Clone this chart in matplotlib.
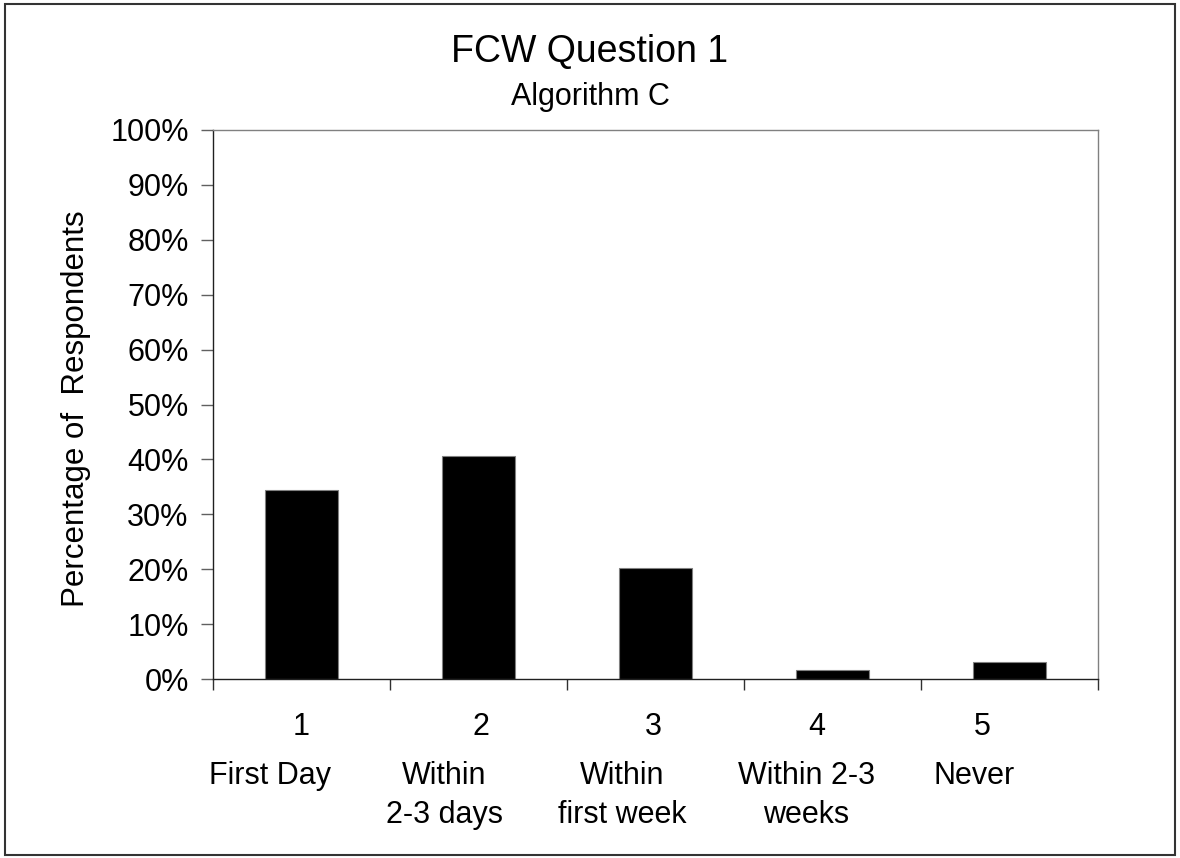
import matplotlib
matplotlib.use("Agg")
import matplotlib.pyplot as plt
import matplotlib.ticker as ticker
from matplotlib.patches import Rectangle
from matplotlib.transforms import blended_transform_factory, offset_copy

plt.rcParams.update({
  "font.family": ["Liberation Sans", "DejaVu Sans"],
  "font.size": 22,
})

# Data
codes = ["1", "2", "3", "4", "5"]
answers = ["First Day", "Within\n2-3 days", "Within\nfirst week", "Within 2-3\nweeks", "Never"]
percent = [34.4, 40.6, 20.3, 1.6, 3.1]

# horizontal nudges (pixels) of the category texts, as in the original layout
code_dx = [0, 2, -2, -16, -27]
answer_dx = [-31, -34, -33, -26, -35]

fig = plt.figure(figsize=(11.8, 8.58), dpi=100)
ax = fig.add_axes([0.1805, 0.2086, 0.75, 0.6399])

pos = list(range(1, len(codes) + 1))
ax.bar(pos, percent, width=0.41, color="black", edgecolor="#808080", linewidth=0.8)

ax.set_xlim(0.5, len(codes) + 0.5)
ax.set_ylim(0, 100)
ax.yaxis.set_major_locator(ticker.MultipleLocator(10))
ax.yaxis.set_major_formatter(ticker.FuncFormatter(lambda v, _: f"{v:.0f}%"))
ax.tick_params(axis="y", direction="out", length=8.5, width=1, color="#606060",
               labelsize=22, pad=9)

# tick marks between categories; the category texts are drawn below
ax.set_xticks([p + 0.5 for p in [0] + pos])
ax.set_xticklabels([])
ax.tick_params(axis="x", direction="out", length=8, width=1, color="#303030")

for side in ["top", "right"]:
  ax.spines[side].set_color("#808080")
for side in ["left", "bottom"]:
  ax.spines[side].set_color("#202020")
for s in ax.spines.values():
  s.set_linewidth(1)

trans = blended_transform_factory(ax.transData, fig.transFigure)
for p, code, name, dx1, dx2 in zip(pos, codes, answers, code_dx, answer_dx):
  ax.text(p, 1 - 735 / 858, code, ha="center", va="baseline", fontsize=22,
          transform=offset_copy(trans, fig=fig, x=dx1, units="dots"))
  ax.text(p, 1 - 761 / 858, name, ha="center", va="top", fontsize=22,
          linespacing=1.41, transform=offset_copy(trans, fig=fig, x=dx2, units="dots"))

ax.set_ylabel("Percentage of  Respondents", fontsize=22.5)
ax.yaxis.set_label_coords(76 / 1180, 1 - 409 / 858, transform=fig.transFigure)
ax.yaxis.label.set_verticalalignment("center")

fig.text(0.5, 1 - 62 / 858, "FCW Question 1", ha="center", va="baseline", fontsize=27)
fig.text(0.5, 1 - 105 / 858, "Algorithm C", ha="center", va="baseline", fontsize=22)

fig.patches.append(Rectangle((0.004, 0.004), 0.992, 0.991, transform=fig.transFigure,
                             fill=False, edgecolor="#333333", linewidth=1.5))

fig.savefig("out.png", dpi=100)
